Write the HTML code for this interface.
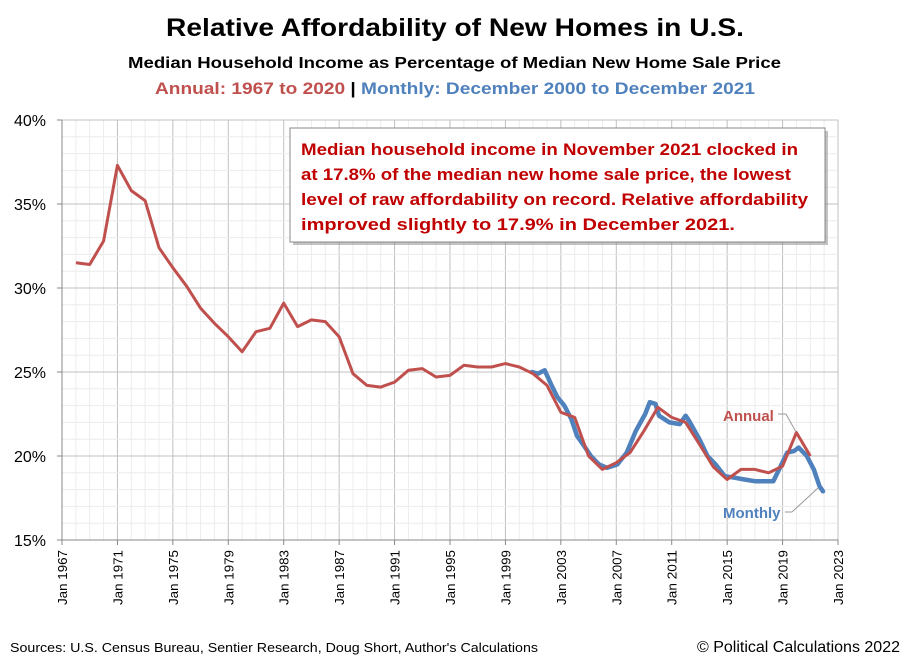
<!DOCTYPE html>
<html><head><meta charset="utf-8">
<style>
body{margin:0;background:#fff;font-family:"Liberation Sans","DejaVu Sans",sans-serif}
svg text{font-family:"Liberation Sans","DejaVu Sans",sans-serif}
</style></head>
<body>
<svg id="chart" width="910" height="662" viewBox="0 0 910 662" xmlns="http://www.w3.org/2000/svg">
<rect width="910" height="662" fill="#fff"/>
<text x="166" y="36" textLength="578" lengthAdjust="spacingAndGlyphs" font-size="25" font-weight="bold" fill="#000">Relative Affordability of New Homes in U.S.</text>
<text x="128" y="68" textLength="653" lengthAdjust="spacingAndGlyphs" font-size="16" font-weight="bold" fill="#000">Median Household Income as Percentage of Median New Home Sale Price</text>
<text x="155" y="94" textLength="600" lengthAdjust="spacingAndGlyphs" font-size="17" font-weight="bold"><tspan fill="#C0504D">Annual: 1967 to 2020 </tspan><tspan fill="#000">| </tspan><tspan fill="#4F81BD">Monthly: December 2000 to December 2021</tspan></text>
<g id="grid"></g>
<g id="axes"></g>
<g id="series"></g>
<g>
<rect x="293" y="131" width="535" height="114" fill="#888" opacity="0.5"/>
<rect x="290" y="128" width="535" height="114" fill="#fff" stroke="#888" stroke-width="1"/>
<text x="301" y="155" textLength="497" lengthAdjust="spacingAndGlyphs" font-size="17" font-weight="bold" fill="#C00000">Median household income in November 2021 clocked in</text>
<text x="301" y="180" textLength="490" lengthAdjust="spacingAndGlyphs" font-size="17" font-weight="bold" fill="#C00000">at 17.8% of the median new home sale price, the lowest</text>
<text x="301" y="205" textLength="507" lengthAdjust="spacingAndGlyphs" font-size="17" font-weight="bold" fill="#C00000">level of raw affordability on record.  Relative affordability</text>
<text x="301" y="230" textLength="434" lengthAdjust="spacingAndGlyphs" font-size="17" font-weight="bold" fill="#C00000">improved slightly to 17.9% in December 2021.</text>
</g>
<line x1="778" y1="414" x2="786" y2="414" stroke="#999"/>
<line x1="786" y1="414" x2="796" y2="432" stroke="#999"/>
<text x="723" y="421" font-size="15" font-weight="bold" fill="#C0504D">Annual</text>
<line x1="785" y1="512" x2="792" y2="512" stroke="#999"/>
<line x1="792" y1="512" x2="818" y2="488" stroke="#999"/>
<text x="723" y="518" font-size="15" font-weight="bold" fill="#4F81BD">Monthly</text>
<text x="10" y="652" textLength="528" lengthAdjust="spacingAndGlyphs" font-size="13" fill="#000">Sources: U.S. Census Bureau, Sentier Research, Doug Short,  Author's Calculations</text>
<text x="900" y="652" text-anchor="end" font-size="16" fill="#000">© Political Calculations 2022</text>
</svg>
<script>
const annualYears=[1967,1968,1969,1970,1971,1972,1973,1974,1975,1976,1977,1978,1979,1980,1981,1982,1983,1984,1985,1986,1987,1988,1989,1990,1991,1992,1993,1994,1995,1996,1997,1998,1999,2000,2001,2002,2003,2004,2005,2006,2007,2008,2009,2010,2011,2012,2013,2014,2015,2016,2017,2018,2019,2020];
const annualValues=[31.5,31.4,32.8,37.3,35.8,35.2,32.4,31.2,30.1,28.8,27.9,27.1,26.2,27.4,27.6,29.1,27.7,28.1,28.0,27.1,24.9,24.2,24.1,24.4,25.1,25.2,24.7,24.8,25.4,25.3,25.3,25.5,25.3,24.9,24.2,22.6,22.3,20.0,19.2,19.6,20.2,21.5,22.9,22.3,22.0,20.7,19.35,18.6,19.2,19.2,19.0,19.4,21.4,20.0];
const monthlyDates=["2000-12","2001-05","2001-11","2002-05","2002-10","2003-04","2003-10","2004-03","2004-09","2005-03","2005-10","2006-05","2007-02","2007-10","2008-06","2009-02","2009-06","2009-11","2010-02","2010-11","2011-08","2012-01","2012-04","2013-01","2013-08","2014-03","2014-11","2015-08","2016-04","2017-01","2017-09","2018-05","2018-10","2019-05","2019-11","2020-03","2020-10","2021-04","2021-09","2021-12"];
const monthlyValues=[25.0,24.9,25.1,24.2,23.5,23.0,22.2,21.2,20.6,20.0,19.5,19.3,19.5,20.2,21.5,22.5,23.2,23.1,22.4,22.0,21.9,22.4,22.1,21.0,20.0,19.5,18.8,18.7,18.6,18.5,18.5,18.5,19.2,20.2,20.3,20.5,20.0,19.2,18.2,17.9];
const yTicks=[15,20,25,30,35,40];
const xTickYears=[1967,1971,1975,1979,1983,1987,1991,1995,1999,2003,2007,2011,2015,2019,2023];

const X0=62,X1=838,Y0=120,Y1=540,XMIN=1967,XMAX=2023,VMIN=15,VMAX=40;
const xs=t=>X0+(t-XMIN)/(XMAX-XMIN)*(X1-X0);
const ys=v=>Y1-(v-VMIN)/(VMAX-VMIN)*(Y1-Y0);
const NS="http://www.w3.org/2000/svg";
function mk(tag,attrs,parent){const e=document.createElementNS(NS,tag);for(const k in attrs)e.setAttribute(k,attrs[k]);parent.appendChild(e);return e;}
const grid=document.getElementById('grid'),axes=document.getElementById('axes'),series=document.getElementById('series');
for(let y=XMIN;y<=XMAX;y++){const l=mk('line',{x1:xs(y),x2:xs(y),y1:Y0,y2:Y1,stroke:(y-XMIN)%4===0?'#c0c0c0':'#ececec','stroke-width':1},grid);

}
for(let v=VMIN;v<=VMAX;v++){const l=mk('line',{x1:X0,x2:X1,y1:ys(v),y2:ys(v),stroke:v%5===0?'#c0c0c0':'#ececec','stroke-width':1},grid);

}
const ax=mk('line',{x1:X0,x2:X0,y1:Y0,y2:Y1,stroke:'#888'},axes);


const bx=mk('line',{x1:X0,x2:X1,y1:Y1,y2:Y1,stroke:'#888'},axes);


yTicks.forEach(v=>{mk('line',{x1:X0-5,x2:X0,y1:ys(v),y2:ys(v),stroke:'#888'},axes);
const t=mk('text',{x:X0-16,y:ys(v)+6,'text-anchor':'end','font-size':16,fill:'#000'},axes);t.textContent=v+'%';

});
xTickYears.forEach(y=>{const x=xs(y);mk('line',{x1:x,x2:x,y1:Y1,y2:Y1+5,stroke:'#888'},axes);
const t=mk('text',{x:0,y:0,'text-anchor':'end','font-size':13,textLength:55,lengthAdjust:'spacingAndGlyphs',fill:'#000',transform:`translate(${x+5},${Y1+10}) rotate(-90)`},axes);t.textContent='Jan '+y;

});
const mt=d=>{const [a,b]=d.split('-').map(Number);return a+(b-1)/12;};
const mp=monthlyDates.map((d,i)=>xs(mt(d)).toFixed(1)+','+ys(monthlyValues[i]).toFixed(1)).join(' ');
const ml=mk('polyline',{points:mp,fill:'none',stroke:'#4F81BD','stroke-width':4.5,'stroke-linejoin':'round','stroke-linecap':'round'},series);


const ap=annualYears.map((y,i)=>xs(y+1).toFixed(1)+','+ys(annualValues[i]).toFixed(1)).join(' ');
const al=mk('polyline',{points:ap,fill:'none',stroke:'#C0504D','stroke-width':3,'stroke-linejoin':'round'},series);


</script>
</body></html>
